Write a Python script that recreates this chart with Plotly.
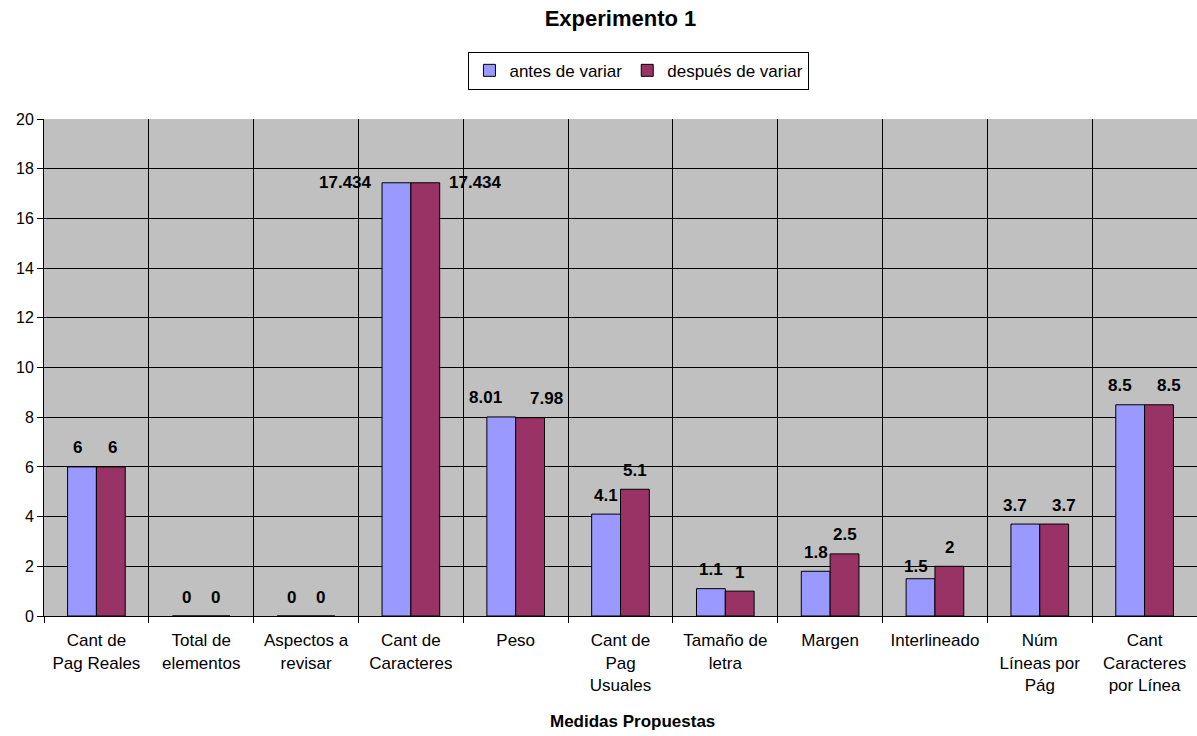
import plotly.graph_objects as go

categories = [
    "Cant de<br>Pag Reales", "Total de<br>elementos", "Aspectos a<br>revisar",
    "Cant de<br>Caracteres", "Peso", "Cant de<br>Pag<br>Usuales",
    "Tamaño de<br>letra", "Margen", "Interlineado",
    "Núm<br>Líneas por<br>Pág", "Cant<br>Caracteres<br>por Línea",
]
antes = [6, 0, 0, 17.434, 8.01, 4.1, 1.1, 1.8, 1.5, 3.7, 8.5]
despues = [6, 0, 0, 17.434, 7.98, 5.1, 1, 2.5, 2, 3.7, 8.5]
y_ticks = list(range(0, 21, 2))

BLUE = "#9999FF"
PLUM = "#993366"
FONT = "Liberation Sans, Arial, sans-serif"

xs = list(range(len(categories)))
fig = go.Figure()
fig.add_bar(x=xs, y=antes, name="antes de variar",
            marker=dict(color=BLUE, line=dict(color="black", width=1)))
fig.add_bar(x=xs, y=despues, name="después de variar",
            marker=dict(color=PLUM, line=dict(color="black", width=1)))

BARGAP = 0.45
half = (1 - BARGAP) / 4  # centre offset of each bar within its group

# pixel nudges (dx, dy) that keep neighbouring value labels apart
nudges = {
    (0, 0): (-5, 0), (0, 1): (2, 0),
    (4, 0): (-16, 0), (4, 1): (16, 0),
    (8, 0): (-5, -7),
    (9, 0): (-10, 0), (9, 1): (10, 0),
    (10, 0): (-10, 0), (10, 1): (10, 0),
}

annotations = []
for i in xs:
    for s, (val, sign) in enumerate(((antes[i], -1), (despues[i], 1))):
        ann = dict(x=i + sign * half, y=val, text=f"<b>{val:g}</b>",
                   showarrow=False, xref="x", yref="y",
                   font=dict(family=FONT, size=17, color="black"),
                   yanchor="middle", yshift=19)
        if val > 17:
            # tallest pair: labels sit beside the bars
            ann.update(x=i + sign * 2 * half, xanchor="right" if sign < 0 else "left",
                       xshift=-8 if sign < 0 else 7, yshift=0)
        dx, dy = nudges.get((i, s), (0, 0))
        ann["xshift"] = ann.get("xshift", 0) + dx
        ann["yshift"] = ann["yshift"] + dy
        annotations.append(ann)

annotations.append(dict(text="<b>Medidas Propuestas</b>", x=0.51, y=-0.213,
                        xref="paper", yref="paper", yanchor="middle", showarrow=False,
                        font=dict(family=FONT, size=17, color="black")))

bounds = [i - 0.5 for i in range(len(categories) + 1)]

fig.update_layout(
    width=1197, height=736,
    margin=dict(l=44, r=0, t=119, b=120),
    paper_bgcolor="white", plot_bgcolor="#C0C0C0",
    barmode="group", bargap=BARGAP, bargroupgap=0,
    font=dict(family=FONT, size=17, color="black"),
    title=dict(text="<b>Experimento 1</b>", xref="paper", x=0.5, xanchor="center",
               y=0.975, yanchor="middle", font=dict(family=FONT, size=22, color="black")),
    legend=dict(orientation="h", x=0.516, xanchor="center", y=1.097, yanchor="middle",
                bgcolor="white", bordercolor="black", borderwidth=1,
                font=dict(family=FONT, size=17, color="black"),
                itemwidth=30, tracegroupgap=0),
    showlegend=True,
    annotations=annotations,
)

fig.update_xaxes(
    range=[-0.5, len(categories) - 0.5],
    tickvals=xs, ticktext=categories, ticks="", showgrid=False,
    showline=True, linecolor="black", linewidth=1, zeroline=False,
    tickfont=dict(family=FONT, size=17, color="black"),
    ticklabelstandoff=9,
    minor=dict(tickvals=bounds, ticks="outside", ticklen=6, tickcolor="black",
               showgrid=True, gridcolor="black", gridwidth=1),
    fixedrange=True,
)
fig.update_yaxes(
    range=[0, 20], tickvals=y_ticks, ticks="outside", ticklen=6, tickcolor="black",
    showgrid=True, gridcolor="black", gridwidth=1, zeroline=False,
    showline=True, linecolor="black", linewidth=1,
    tickfont=dict(family=FONT, size=16, color="black"),
)

fig.write_html("out.html")
